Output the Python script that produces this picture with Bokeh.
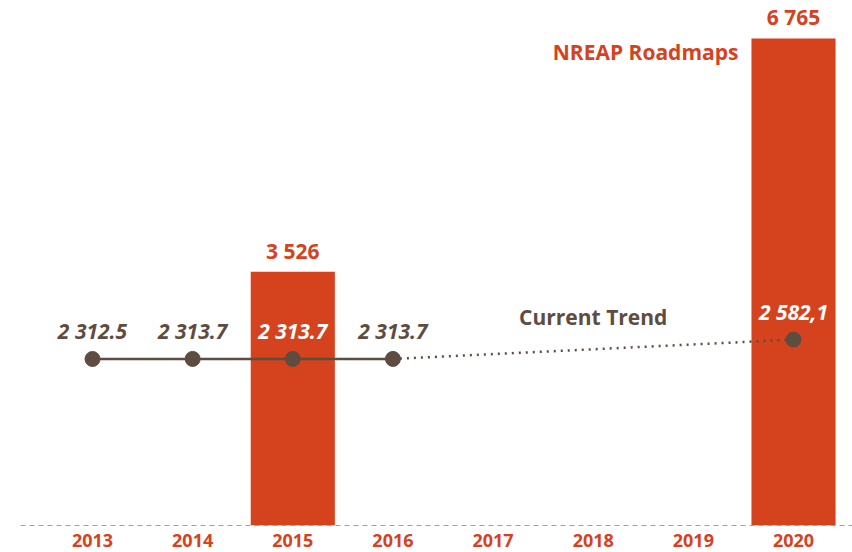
from bokeh.plotting import figure
from bokeh.models import ColumnDataSource, Range1d, FixedTicker, Label, LabelSet
from bokeh.core.properties import value
from bokeh.embed import file_html
from bokeh.resources import INLINE

years = [2013, 2014, 2015, 2016, 2017, 2018, 2019, 2020]
year_labels = ["2013", "2014", "2015", "2016", "2017", "2018", "2019", "2020"]

bar_years = [2015, 2020]
bar_values = [3526, 6765]
bar_texts = ["3 526", "6 765"]

trend_years = [2013, 2014, 2015, 2016]
trend_values = [2312.5, 2313.7, 2313.7, 2313.7]
trend_texts = ["2 312.5", "2 313.7", "2 313.7", "2 313.7"]
trend_text_colors = ["#5e4c41", "#5e4c41", "#ffffff", "#5e4c41"]

proj_years = [2016, 2020]
proj_values = [2313.7, 2582.1]
proj_point_years = [2020]
proj_point_values = [2582.1]
proj_texts = ["2 582,1"]

RED = "#d5421e"
BROWN = "#5e4c41"
FONT = "Open Sans"

p = figure(width=852, height=552, output_backend="svg", toolbar_location=None,
           x_range=Range1d(2012.281, 2020.589), y_range=Range1d(0, 7292),
           min_border_left=20, min_border_right=0, min_border_top=0, min_border_bottom=27)
p.outline_line_color = None
p.grid.visible = False
p.yaxis.visible = False
p.background_fill_color = "white"
p.border_fill_color = "white"

bars = ColumnDataSource(dict(x=bar_years, top=bar_values, t=bar_texts))
p.vbar(x="x", top="top", width=0.84, bottom=0, source=bars, fill_color=RED, line_color=None)
p.add_layout(LabelSet(x="x", y="top", text="t", source=bars, text_align="center",
                      text_baseline="bottom", y_offset=7, text_color=RED,
                      text_font=value(FONT), text_font_style="bold", text_font_size="21px"))

p.line(proj_years, proj_values, line_color=BROWN, line_width=2.5, line_dash="2 5")
p.line(trend_years, trend_values, line_color=BROWN, line_width=2.5)
p.scatter(trend_years, trend_values, size=15, fill_color=BROWN, line_color=BROWN)
p.scatter(proj_point_years, proj_point_values, size=15, fill_color=BROWN, line_color=BROWN)

tr = ColumnDataSource(dict(x=trend_years, y=trend_values, t=trend_texts, c=trend_text_colors))
p.add_layout(LabelSet(x="x", y="y", text="t", source=tr, text_align="center",
                      text_baseline="bottom", y_offset=14, text_color="c",
                      text_font=value(FONT), text_font_style="bold italic", text_font_size="21px"))
pr = ColumnDataSource(dict(x=proj_point_years, y=proj_point_values, t=proj_texts))
p.add_layout(LabelSet(x="x", y="y", text="t", source=pr, text_align="center",
                      text_baseline="bottom", y_offset=14, text_color="white",
                      text_font=value(FONT), text_font_style="bold italic", text_font_size="21px"))

p.add_layout(Label(x=2018.0, y=2700, text="Current Trend", text_align="center",
                   text_baseline="bottom", text_color=BROWN, text_font=FONT,
                   text_font_style="bold", text_font_size="21px"))
p.add_layout(Label(x=2019.45, y=6765, text="NREAP Roadmaps", text_align="right",
                   text_baseline="top", y_offset=0, text_color=RED, text_font=FONT,
                   text_font_style="bold", text_font_size="21px"))

p.xaxis.ticker = FixedTicker(ticks=years)
p.xaxis.major_label_overrides = {y: l for y, l in zip(years, year_labels)}
p.xaxis.major_tick_line_color = None
p.xaxis.minor_tick_line_color = None
p.xaxis.axis_line_color = "#a0a0a0"
p.xaxis.axis_line_dash = "5 4"
p.xaxis.axis_line_width = 1
p.xaxis.major_label_standoff = 2
p.xaxis.major_label_text_color = RED
p.xaxis.major_label_text_font = FONT
p.xaxis.major_label_text_font_style = "bold"
p.xaxis.major_label_text_font_size = "18px"

open("out.html", "w").write(file_html(p, INLINE))
